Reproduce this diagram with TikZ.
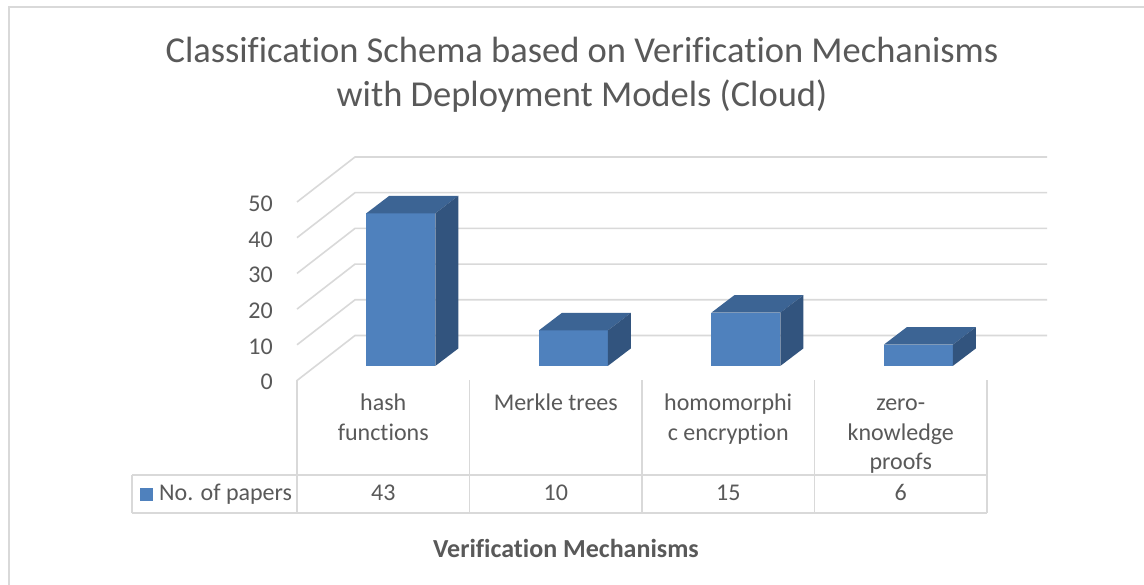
\documentclass[tikz,border=0pt]{standalone}
\usepackage{fontspec}
\setmainfont{Carlito}[Ligatures=NoCommon]
\definecolor{txtgray}{HTML}{595959}
\definecolor{gridgray}{HTML}{D9D9D9}
\definecolor{barfront}{HTML}{4F81BD}
\definecolor{bartop}{HTML}{3C6494}
\definecolor{barside}{HTML}{32547E}
\tikzset{
  gridline/.style={draw=gridgray,line width=1.6pt},
  tableline/.style={draw=gridgray,line width=1.6pt},
  ticklabel/.style={anchor=base east,inner sep=0pt,text=txtgray,font=\fontsize{24}{28}\selectfont},
  catlabel/.style={anchor=base,inner sep=0pt,align=center,text=txtgray,font=\fontsize{24}{29.5}\selectfont},
  frontface/.style={fill=barfront},
  topface/.style={fill=bartop},
  sideface/.style={fill=barside}
}
\begin{document}
\begin{tikzpicture}[x=1pt,y=-1pt]
\useasboundingbox (0,0) rectangle (1144,585);
\fill[white] (0,0) rectangle (1144,585);
\draw[gridgray,line width=1.6pt] (9,7) rectangle (1170,610);
% title
\node[catlabel,font=\fontsize{36.5}{44}\selectfont] (title) at(582,106.7){Classification Schema based on Verification Mechanisms\\with Deployment Models (Cloud)};
% back wall and side wall
\draw[gridline] (297,380.5) -- (355,335.5) -- (1047,335.5);
\draw[gridline] (297,344.8) -- (355,299.8) -- (1047,299.8);
\draw[gridline] (297,309.1) -- (355,264.1) -- (1047,264.1);
\draw[gridline] (297,273.4) -- (355,228.4) -- (1047,228.4);
\draw[gridline] (297,237.7) -- (355,192.7) -- (1047,192.7);
\draw[gridline] (297,202) -- (355,157) -- (1047,157);
% value axis
\node[ticklabel] (lbl0) at(273,390){0};
\node[ticklabel] (lbl10) at(273,354.3){10};
\node[ticklabel] (lbl20) at(273,318.6){20};
\node[ticklabel] (lbl30) at(273,282.9){30};
\node[ticklabel] (lbl40) at(273,247.2){40};
\node[ticklabel] (lbl50) at(273,211.5){50};
% bars
\fill[frontface] (366.25,366) rectangle (435.25,213.35);
\fill[topface] (366.25,213.35) -- (389.25,195.85) -- (458.25,195.85) -- (435.25,213.35) -- cycle;
\fill[sideface] (435.25,366) -- (458.25,348.5) -- (458.25,195.85) -- (435.25,213.35) -- cycle;
\fill[frontface] (538.75,366) rectangle (607.75,330.5);
\fill[topface] (538.75,330.5) -- (561.75,313) -- (630.75,313) -- (607.75,330.5) -- cycle;
\fill[sideface] (607.75,366) -- (630.75,348.5) -- (630.75,313) -- (607.75,330.5) -- cycle;
\fill[frontface] (711.25,366) rectangle (780.25,312.75);
\fill[topface] (711.25,312.75) -- (734.25,295.25) -- (803.25,295.25) -- (780.25,312.75) -- cycle;
\fill[sideface] (780.25,366) -- (803.25,348.5) -- (803.25,295.25) -- (780.25,312.75) -- cycle;
\fill[frontface] (883.75,366) rectangle (952.75,344.7);
\fill[topface] (883.75,344.7) -- (906.75,327.2) -- (975.75,327.2) -- (952.75,344.7) -- cycle;
\fill[sideface] (952.75,366) -- (975.75,348.5) -- (975.75,327.2) -- (952.75,344.7) -- cycle;
% data table
\draw[tableline] (297,380.5) -- (297,513);
\draw[tableline] (469.5,380.5) -- (469.5,513);
\draw[tableline] (642,380.5) -- (642,513);
\draw[tableline] (814.5,380.5) -- (814.5,513);
\draw[tableline] (987,380.5) -- (987,513);
\draw[tableline] (132,475) -- (987,475);
\draw[tableline] (132,513) -- (987,513);
\draw[tableline] (132,475) -- (132,513);
\node[catlabel] (cat1) at(383.25,440){hash\\functions};
\node[catlabel] (cat2) at(555.75,410){Merkle trees};
\node[catlabel] (cat3) at(728.25,440){homomorphi\\c encryption};
\node[catlabel] (cat4) at(900.75,469.5){zero-\\knowledge\\proofs};
\fill[barfront] (140,487.5) rectangle (152.5,500.5);
\node[catlabel,anchor=base west] (legend) at(159,500.5){No. of papers};
\node[catlabel] (val1) at(383.25,500.5){43};
\node[catlabel] (val2) at(555.75,500.5){10};
\node[catlabel] (val3) at(728.25,500.5){15};
\node[catlabel] (val4) at(900.75,500.5){6};
% axis title
\node[catlabel,font=\bfseries\fontsize{26}{30}\selectfont] (axtitle) at(566,557){Verification Mechanisms};
\end{tikzpicture}
\end{document}
